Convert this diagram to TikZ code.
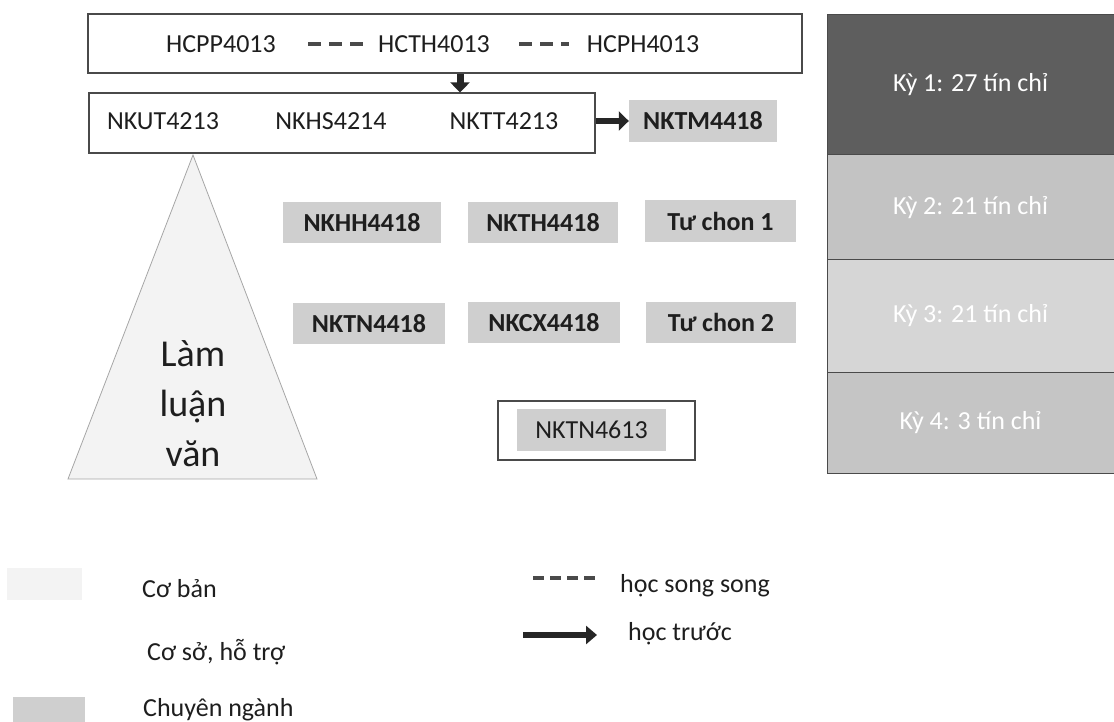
\documentclass[tikz,border=0pt]{standalone}
\usepackage{fontspec}
\setmainfont{Carlito}
\usetikzlibrary{arrows.meta}
\definecolor{edgegray}{HTML}{4A4A4A}
\definecolor{cbfill}{HTML}{F3F3F3}
\definecolor{cnfill}{HTML}{CFCFCF}
\definecolor{kyone}{HTML}{5E5E5E}
\definecolor{kytwo}{HTML}{C3C3C3}
\definecolor{kythree}{HTML}{D6D6D6}
\definecolor{kyfour}{HTML}{C5C5C5}
\definecolor{txt}{HTML}{1E1E1E}
\tikzset{
  x=1pt, y=-1pt,
  lbl/.style={inner sep=0pt, text=txt, font=\fontsize{26}{30}\selectfont},
  whitebox/.style={draw=edgegray, line width=1.2pt, fill=white, inner sep=0pt},
  graybox/.style={fill=cnfill, inner sep=0pt, text=txt, font=\fontsize{26}{30}\selectfont\bfseries},
  kybox/.style={draw=edgegray, line width=1pt, inner sep=0pt, text=white, font=\fontsize{26}{30}\selectfont, minimum width=287pt},
  parlink/.style={draw=edgegray, line width=3.2pt, dash pattern=on 13pt off 8pt},
  prelink/.style={draw=black!85, line width=7pt, -{Triangle[length=10pt,width=19pt]}},
  legarrow/.style={draw=black!85, line width=6.5pt, -{Triangle[length=11pt,width=18pt]}},
}
\begin{document}
\begin{tikzpicture}
\useasboundingbox (0,0) rectangle (1114,722);

% top box
\node[whitebox, minimum width=714pt, minimum height=59pt] (topbox) at (445,43.5) {};
\node[lbl] (hcpp) at (221,44) {HCPP4013};
\node[lbl] (hcth) at (434,44) {HCTH4013};
\node[lbl] (hcph) at (643,44) {HCPH4013};
\draw[parlink, shorten <=32pt, shorten >=11pt] (hcpp) -- (hcth);
\draw[parlink, shorten <=29pt, shorten >=18pt] (hcth) -- (hcph);

% second box
\node[whitebox, minimum width=506pt, minimum height=60pt] (box2) at (342,123) {};
\node[lbl] (nkut) at (163,121) {NKUT4213};
\node[lbl] (nkhs) at (331,121) {NKHS4214};
\node[lbl] (nktt) at (504,121) {NKTT4213};
\node[graybox, minimum width=148pt, minimum height=42pt] (nktm) at (703,121) {NKTM4418};

\coordinate (downx) at (460,0);
\draw[prelink] (topbox.south -| downx) -- (box2.north -| downx);
\draw[prelink, line width=6pt] (box2.east |- nktm) -- (nktm.west);

% triangle
\draw[draw=gray!70, line width=0.8pt, fill=cbfill] (193,155) -- (317,479) -- (68,479) -- cycle;
\node[lbl, align=center, font=\fontsize{38}{50}\selectfont] (lam) at (193,404) {Làm\\luận\\văn};

% specialised courses
\node[graybox, minimum width=158pt, minimum height=41pt] (nkhh) at (362,222.5) {NKHH4418};
\node[graybox, minimum width=150pt, minimum height=41pt] (nkth) at (543,222.5) {NKTH4418};
\node[graybox, minimum width=151pt, minimum height=42pt] (tc1) at (720.5,221) {Tư chon 1};
\node[graybox, minimum width=152pt, minimum height=41pt] (nktn) at (369,323.5) {NKTN4418};
\node[graybox, minimum width=152pt, minimum height=41pt] (nkcx) at (544,322.5) {NKCX4418};
\node[graybox, minimum width=150pt, minimum height=41pt] (tc2) at (721,322.5) {Tư chon 2};

\node[whitebox, minimum width=197pt, minimum height=59pt] (outer) at (596.5,430.5) {};
\node[graybox, minimum width=149pt, minimum height=42pt, font=\fontsize{26}{30}\selectfont] (nktnb) at (591.5,430) {NKTN4613};

% semesters
\node[kybox, fill=kyone, minimum height=140pt] (ky1) at (970.5,85) {Kỳ 1: 27 tín chỉ};
\node[kybox, fill=kytwo, minimum height=105pt] (ky2) at (970.5,207.5) {Kỳ 2: 21 tín chỉ};
\node[kybox, fill=kythree, minimum height=112pt] (ky3) at (970.5,316) {Kỳ 3: 21 tín chỉ};
\node[kybox, fill=kyfour, minimum height=101pt] (ky4) at (970.5,422.5) {Kỳ 4: 3 tín chỉ};

% legend
\node[fill=cbfill, inner sep=0pt, minimum width=75pt, minimum height=32pt] (swa) at (44.5,584) {};
\node[lbl, anchor=base west] (lega) at (142,597) {Cơ bản};
\node[fill=white, inner sep=0pt, minimum width=64pt, minimum height=40pt] (swb) at (40,660) {};
\node[lbl, anchor=base west] (legb) at (147,660) {Cơ sở, hỗ trợ};
\node[fill=cnfill, inner sep=0pt, minimum width=72pt, minimum height=25pt] (swc) at (49,709.5) {};
\node[lbl, anchor=base west] (legc) at (143,716) {Chuyên ngành};

\coordinate (dsa) at (533,578);
\coordinate (dsb) at (595,578);
\draw[parlink, dash pattern=on 11pt off 6pt] (dsa) -- (dsb);
\node[lbl, anchor=base west] (legd) at (620,592) {học song song};
\coordinate (ara) at (523,635);
\coordinate (arb) at (597,635);
\draw[legarrow] (ara) -- (arb);
\node[lbl, anchor=base west] (lege) at (628,640) {học trước};
\end{tikzpicture}
\end{document}
